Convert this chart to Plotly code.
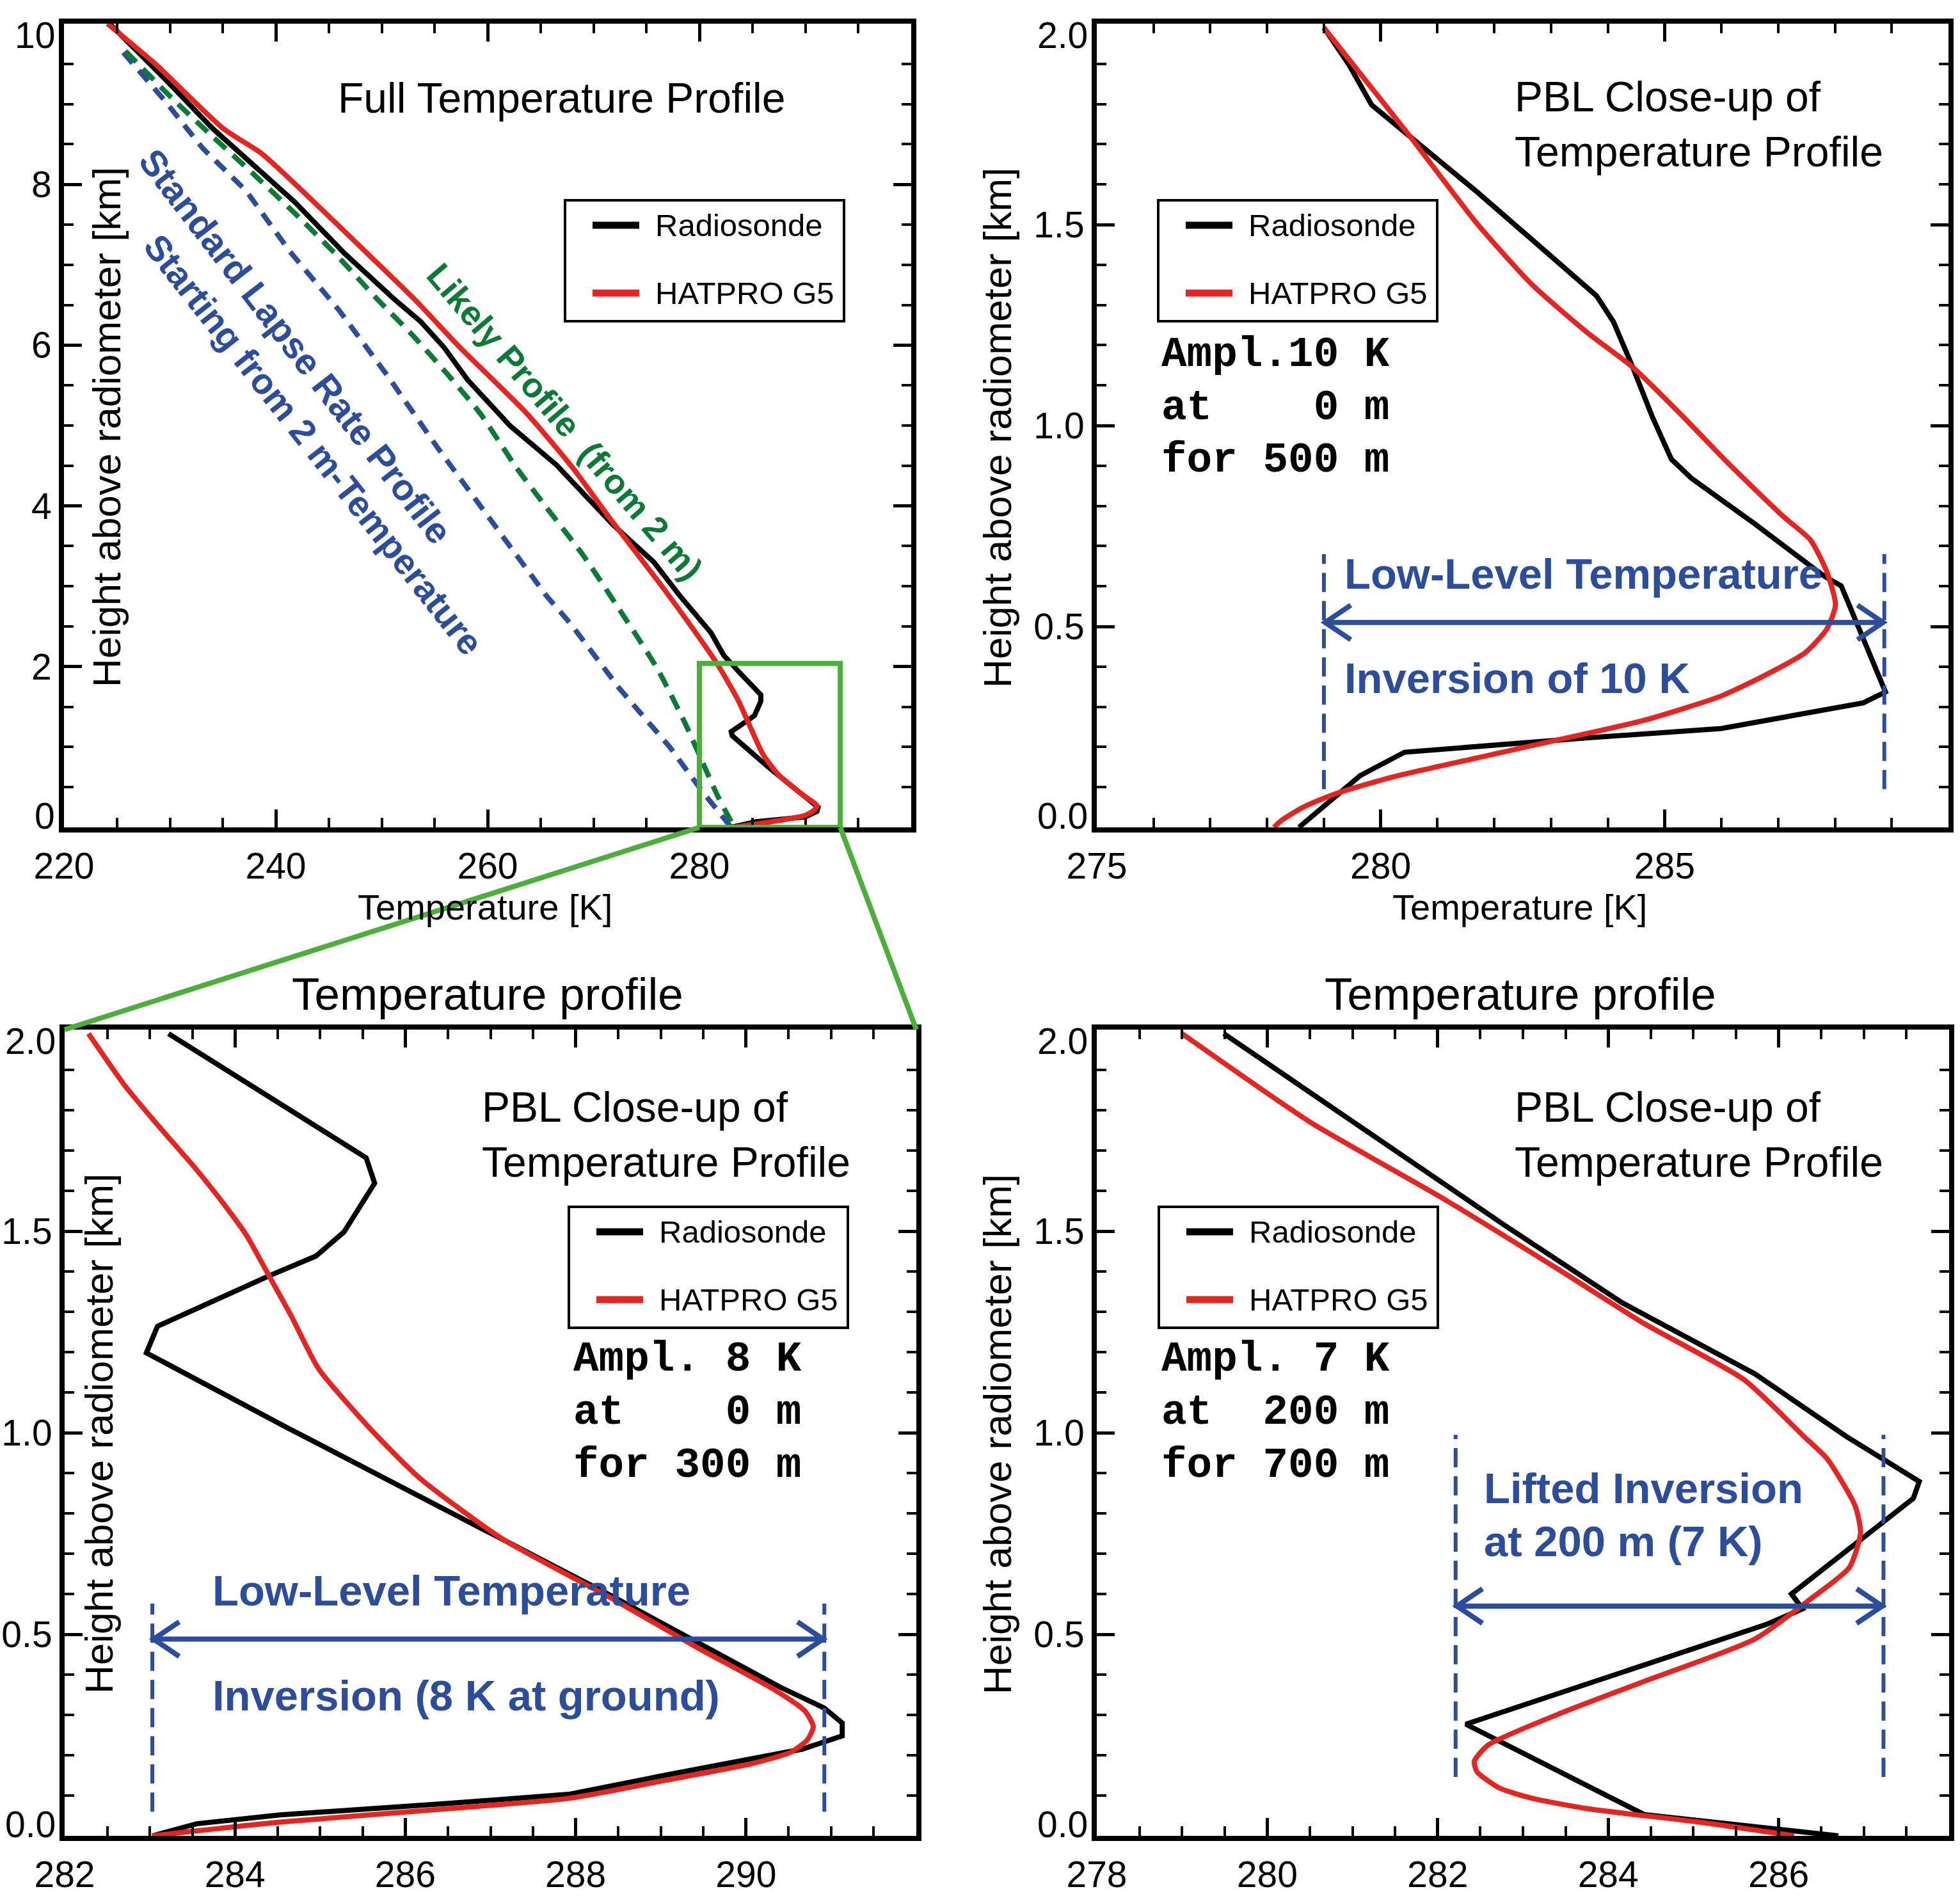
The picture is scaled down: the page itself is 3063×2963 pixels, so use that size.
import plotly.graph_objects as go

W, H = 3063, 2963

# ---------------- data (temperature in K, height in km) ----------------
# Panel A: full temperature profile
a_sonde_T = [224.3, 229.4, 234.0, 238.7, 241.8, 246.5, 251.2, 253.7, 255.9, 258.1, 262.1, 266.5,
             271.8, 275.7, 278.1, 281.1, 282.3, 283.7, 285.8, 285.8, 285.2, 283.0, 283.1, 286.5,
             291.2, 291.1, 290.0, 285.3, 283.0]
a_sonde_h = [10.0, 9.33, 8.70, 8.14, 7.78, 7.14, 6.57, 6.29, 5.97, 5.57, 5.00, 4.51,
             3.77, 3.30, 2.89, 2.42, 2.14, 1.94, 1.65, 1.57, 1.39, 1.19, 1.14, 0.75,
             0.25, 0.20, 0.13, 0.07, 0.0]
a_hat_T = [224.1, 228.7, 235.0, 238.7, 242.5, 248.1, 253.1, 257.4, 263.7, 268.0, 271.8, 276.0,
           279.5, 281.8, 283.7, 284.9, 286.0, 287.5, 289.8, 291.1, 290.8, 290.0, 287.7, 283.2]
a_hat_h = [10.0, 9.49, 8.70, 8.38, 7.92, 7.21, 6.57, 5.97, 5.15, 4.48, 3.80, 3.08,
           2.45, 2.01, 1.57, 1.22, 0.91, 0.65, 0.40, 0.27, 0.21, 0.15, 0.09, 0.0]
a_likely_T = [225.8, 230.3, 234.0, 237.8, 241.8, 245.6, 249.6, 252.8, 256.2, 259.3, 262.7, 265.5,
              269.0, 272.5, 276.0, 278.6, 280.4, 281.8, 283.3]
a_likely_h = [9.66, 9.06, 8.60, 8.14, 7.64, 7.14, 6.57, 6.14, 5.64, 5.15, 4.48, 3.99,
              3.39, 2.70, 1.98, 1.31, 0.78, 0.37, 0.0]
a_std_T = [225.6, 229.4, 233.1, 237.2, 241.3, 246.0, 250.6, 255.3, 265.5, 267.8, 272.5, 277.2, 280.2, 283.0]
a_std_h = [9.64, 9.06, 8.45, 7.92, 7.17, 6.43, 5.61, 4.72, 2.89, 2.54, 1.72, 1.00, 0.46, 0.0]
a_zoom_T = [280.0, 293.3]   # close-up box
a_zoom_h = [0.0, 2.04]

# Panel B: PBL close-up, inversion of 10 K at 0 m
b_sonde_T = [279.0, 279.44, 279.84, 280.52, 281.70, 282.67, 283.8, 284.1, 284.44, 284.78, 285.12, 285.47,
             286.59, 287.81, 288.11, 288.25, 288.89, 288.5, 286.0, 283.65, 280.42, 279.64, 278.56]
b_sonde_h = [1.99, 1.898, 1.798, 1.719, 1.581, 1.462, 1.323, 1.258, 1.145, 1.023, 0.916, 0.869,
             0.755, 0.625, 0.601, 0.554, 0.337, 0.310, 0.246, 0.223, 0.187, 0.129, 0.0]
b_hat_T = [279.0, 279.74, 280.52, 281.70, 282.67, 283.65, 284.44, 285.32, 286.1, 287.08, 287.57, 287.86,
           288.01, 287.86, 287.47, 286.79, 286.0, 284.63, 283.16, 281.70, 280.23, 279.25, 278.66, 278.27, 278.12]
b_hat_h = [1.99, 1.858, 1.719, 1.502, 1.35, 1.23, 1.145, 1.023, 0.909, 0.775, 0.715, 0.635,
           0.554, 0.494, 0.434, 0.380, 0.327, 0.266, 0.219, 0.173, 0.126, 0.086, 0.052, 0.019, 0.0]
b_inv_T = [279.0, 288.87]
b_inv_dash_h = [0.095, 0.68]
b_inv_arrow_h = 0.51

# Panel C: PBL close-up, 8 K at ground
c_sonde_T = [283.22, 285.54, 285.64, 285.28, 284.95, 284.40, 283.09, 282.96, 284.6, 287.13, 288.44, 289.42,
             290.40, 290.92, 291.13, 291.13, 290.66, 289.09, 287.92, 286.48, 284.53, 283.55, 283.03]
c_sonde_h = [1.99, 1.682, 1.619, 1.498, 1.438, 1.389, 1.264, 1.198, 1.014, 0.738, 0.593, 0.481,
             0.369, 0.317, 0.280, 0.248, 0.215, 0.152, 0.103, 0.080, 0.052, 0.030, 0.0]
c_hat_T = [282.28, 282.70, 283.09, 283.55, 283.87, 284.14, 284.40, 284.66, 284.98, 285.57, 286.16, 287.13,
           288.44, 289.42, 290.33, 290.69, 290.79, 290.72, 290.53, 290.07, 289.09, 287.92, 286.48, 284.53, 283.03]
c_hat_h = [1.99, 1.863, 1.764, 1.652, 1.567, 1.488, 1.389, 1.29, 1.159, 1.014, 0.889, 0.738,
           0.587, 0.468, 0.363, 0.310, 0.271, 0.238, 0.208, 0.179, 0.139, 0.093, 0.067, 0.034, 0.0]
c_inv_T = [283.03, 290.92]
c_inv_dash_h = [0.06, 0.576]
c_inv_arrow_h = 0.488

# Panel D: lifted inversion at 200 m (7 K)
d_sonde_T = [279.49, 281.16, 282.79, 284.16, 285.72, 286.8, 287.65, 287.58, 286.15, 286.28, 285.85,
             282.33, 284.42, 286.70]
d_sonde_h = [1.99, 1.751, 1.514, 1.323, 1.146, 0.99, 0.879, 0.837, 0.600, 0.563, 0.524,
             0.277, 0.053, 0.0]
d_hat_T = [279.0, 280.50, 282.07, 283.44, 284.42, 285.59, 286.3, 286.57, 286.90, 286.96, 286.83, 286.37,
           285.72, 284.42, 283.44, 282.59, 282.43, 282.46, 282.72, 283.11, 283.77, 285.07, 286.18]
d_hat_h = [1.99, 1.771, 1.580, 1.402, 1.271, 1.132, 0.99, 0.935, 0.817, 0.751, 0.666, 0.587,
           0.488, 0.383, 0.304, 0.225, 0.185, 0.159, 0.119, 0.093, 0.067, 0.034, 0.0]
d_inv_T = [282.21, 287.23]
d_inv_dash_h = [0.146, 0.995]
d_inv_arrow_h = 0.570

# axis tick labels
a_xticks = [220, 240, 260, 280, 300]
a_yticks = [0, 2, 4, 6, 8, 10]
b_xticks = [275, 280, 285, 290]
c_xticks = [282, 284, 286, 288, 290, 292]
d_xticks = [278, 280, 282, 284, 286, 288]
h_ticks = [0.0, 0.5, 1.0, 1.5, 2.0]

# ---------------- style ----------------
FONT = "Arial, 'Liberation Sans', sans-serif"
MONO = "'Courier New', 'Liberation Mono', monospace"
BLACK = "#000000"
RED = "#E52521"
BLUE = "#2C4C9E"
DGREEN = "#0A7A35"
LGREEN = "#4CAF3A"
TICKSIZE = 57

# plot areas in pixels (x0, x1, ytop, ybottom)
areas = {
    "A": (100, 1424, 37, 1293),
    "B": (1714, 3045, 37, 1293),
    "C": (101, 1432, 1609, 2869),
    "D": (1714, 3046, 1609, 2869),
}


def px(x):
    return x / W


def py(y):
    return 1 - y / H


fig = go.Figure()

# dashed reference profiles in panel A
fig.add_trace(go.Scatter(x=a_std_T, y=a_std_h, mode="lines", xaxis="x", yaxis="y",
                         name="Standard lapse rate", showlegend=False,
                         line=dict(color=BLUE, width=8, dash="22px,15px")))
fig.add_trace(go.Scatter(x=a_likely_T, y=a_likely_h, mode="lines", xaxis="x", yaxis="y",
                         name="Likely profile", showlegend=False,
                         line=dict(color=DGREEN, width=8, dash="24px,15px", shape="spline", smoothing=0.6)))

panels = [
    ("x", "y", a_sonde_T, a_sonde_h, a_hat_T, a_hat_h),
    ("x2", "y2", b_sonde_T, b_sonde_h, b_hat_T, b_hat_h),
    ("x3", "y3", c_sonde_T, c_sonde_h, c_hat_T, c_hat_h),
    ("x4", "y4", d_sonde_T, d_sonde_h, d_hat_T, d_hat_h),
]
for xa, ya, sT, sh, hT, hh in panels:
    fig.add_trace(go.Scatter(x=sT, y=sh, mode="lines", xaxis=xa, yaxis=ya, name="Radiosonde",
                             showlegend=False, line=dict(color=BLACK, width=8)))
    fig.add_trace(go.Scatter(x=hT, y=hh, mode="lines", xaxis=xa, yaxis=ya, name="HATPRO G5",
                             showlegend=False,
                             line=dict(color=RED, width=8, shape="spline", smoothing=0.6)))


def axis(dom, rng, tickvals, ticktext, minor_dtick, minor_tick0, standoff):
    return dict(domain=dom, range=rng, showline=True, linewidth=8, linecolor=BLACK,
                mirror="allticks", ticks="inside", ticklen=28, tickwidth=5, tickcolor=BLACK,
                tickmode="array", tickvals=tickvals, ticktext=ticktext,
                showgrid=False, zeroline=False, fixedrange=True, automargin=False,
                ticklabelstandoff=standoff,
                tickfont=dict(family=FONT, size=TICKSIZE, color=BLACK),
                minor=dict(ticks="inside", ticklen=15, tickwidth=4, tickcolor=BLACK,
                           dtick=minor_dtick, tick0=minor_tick0, showgrid=False))


def xdom(k):
    a = areas[k]
    return [px(a[0]), px(a[1])]


def ydom(k):
    a = areas[k]
    return [py(a[3]), py(a[2])]


def xlab(vals):
    t = ["{:d}".format(v) for v in vals]
    t[-1] = ""
    return t


def ylab(vals, fmt):
    # end labels are drawn separately (nudged inside like the original)
    t = [fmt.format(v) for v in vals]
    t[0] = ""
    t[-1] = ""
    return t


XS, YS = 4, 0
fig.update_layout(
    template="none",
    width=W, height=H, margin=dict(l=0, r=0, t=0, b=0, autoexpand=False),
    paper_bgcolor="white", plot_bgcolor="white", showlegend=False,
    xaxis=axis(xdom("A"), [220, 300], a_xticks, xlab(a_xticks), 5, 220, XS),
    yaxis=axis(ydom("A"), [0, 10], a_yticks, ylab(a_yticks, "{:d}"), 0.5, 0, YS),
    xaxis2=axis(xdom("B"), [275, 290], b_xticks, xlab(b_xticks), 1, 275, XS),
    yaxis2=axis(ydom("B"), [0, 2], h_ticks, ylab(h_ticks, "{:.1f}"), 0.1, 0, YS),
    xaxis3=axis(xdom("C"), [282, 292], c_xticks, xlab(c_xticks), 0.5, 282, XS),
    yaxis3=axis(ydom("C"), [0, 2], h_ticks, ylab(h_ticks, "{:.1f}"), 0.1, 0, YS),
    xaxis4=axis(xdom("D"), [278, 288], d_xticks, xlab(d_xticks), 0.5, 278, XS),
    yaxis4=axis(ydom("D"), [0, 2], h_ticks, ylab(h_ticks, "{:.1f}"), 0.1, 0, YS),
)
for i, ax in enumerate(["yaxis", "yaxis2", "yaxis3", "yaxis4"]):
    fig.layout[ax].anchor = ["x", "x2", "x3", "x4"][i]
for i, ax in enumerate(["xaxis", "xaxis2", "xaxis3", "xaxis4"]):
    fig.layout[ax].anchor = ["y", "y2", "y3", "y4"][i]

shapes = []
annots = []


def text(x, y, s, size, color=BLACK, family=FONT, bold=False, xanchor="center",
         yanchor="middle", angle=0, align="left"):
    if bold:
        s = "<b>" + s + "</b>"
    annots.append(dict(x=px(x), y=py(y), xref="paper", yref="paper", text=s, showarrow=False,
                       xanchor=xanchor, yanchor=yanchor, textangle=angle, align=align,
                       font=dict(family=family, size=size, color=color)))


# end tick labels of the height axes, nudged inward as in the original
for key, vals, fmt in [("A", a_yticks, "{:d}"), ("B", h_ticks, "{:.1f}"),
                       ("C", h_ticks, "{:.1f}"), ("D", h_ticks, "{:.1f}")]:
    x0, x1, ytop, ybot = areas[key]
    text(x0 - 12, ybot - 18, fmt.format(vals[0]), TICKSIZE, xanchor="right")
    text(x0 - 12, ytop + 18, fmt.format(vals[-1]), TICKSIZE, xanchor="right")

# green close-up box in panel A and connectors to panel C
shapes.append(dict(type="rect", xref="x", yref="y", x0=a_zoom_T[0], x1=a_zoom_T[1],
                   y0=a_zoom_h[0], y1=a_zoom_h[1], line=dict(color=LGREEN, width=8)))
ax0, ax1, atop, abot = areas["A"]


def a_px(T):
    return ax0 + (T - 220) / (300 - 220) * (ax1 - ax0)


cx0, cx1, ctop, cbot = areas["C"]
shapes.append(dict(type="line", xref="paper", yref="paper", x0=px(a_px(a_zoom_T[0])), y0=py(abot),
                   x1=px(cx0), y1=py(ctop), line=dict(color=LGREEN, width=8)))
shapes.append(dict(type="line", xref="paper", yref="paper", x0=px(a_px(a_zoom_T[1])), y0=py(abot),
                   x1=px(cx1), y1=py(ctop), line=dict(color=LGREEN, width=8)))


# inversion markers (dashed verticals + double arrow)
def inversion(xa, ya, Ts, dash_h, arrow_h):
    for T in Ts:
        shapes.append(dict(type="line", xref=xa, yref=ya, x0=T, x1=T, y0=dash_h[0], y1=dash_h[1],
                           line=dict(color=BLUE, width=6, dash="30px,14px")))
    shapes.append(dict(type="line", xref=xa, yref=ya, x0=Ts[0], x1=Ts[1], y0=arrow_h, y1=arrow_h,
                       line=dict(color=BLUE, width=8)))
    shapes.append(dict(type="path", xref=xa, yref=ya, xsizemode="pixel", ysizemode="pixel",
                       xanchor=Ts[0], yanchor=arrow_h, path="M 42,27 L 2,0 L 42,-27",
                       line=dict(color=BLUE, width=8)))
    shapes.append(dict(type="path", xref=xa, yref=ya, xsizemode="pixel", ysizemode="pixel",
                       xanchor=Ts[1], yanchor=arrow_h, path="M -42,27 L -2,0 L -42,-27",
                       line=dict(color=BLUE, width=8)))


inversion("x2", "y2", b_inv_T, b_inv_dash_h, b_inv_arrow_h)
inversion("x3", "y3", c_inv_T, c_inv_dash_h, c_inv_arrow_h)
inversion("x4", "y4", d_inv_T, d_inv_dash_h, d_inv_arrow_h)


# legends (drawn as boxes)
def legend(bx, by):
    shapes.append(dict(type="rect", xref="paper", yref="paper", x0=px(bx), x1=px(bx + 436),
                       y0=py(by), y1=py(by + 189), line=dict(color=BLACK, width=4)))
    for dy, col, name in [(39, BLACK, "Radiosonde"), (145, RED, "HATPRO G5")]:
        shapes.append(dict(type="line", xref="paper", yref="paper", x0=px(bx + 43), x1=px(bx + 116),
                           y0=py(by + dy), y1=py(by + dy), line=dict(color=col, width=11)))
        text(bx + 139, by + dy, name, 49, xanchor="left")


legend(883, 313)
legend(1810, 313)
legend(889, 1886)
legend(1811, 1886)

# titles & labels
text(877, 153, "Full Temperature Profile", 66)
text(2365, 194, "PBL Close-up of<br>Temperature Profile", 66, xanchor="left")
text(751, 1773, "PBL Close-up of<br>Temperature Profile", 66, xanchor="left")
text(2365, 1773, "PBL Close-up of<br>Temperature Profile", 66, xanchor="left")
text(762, 1553, "Temperature profile", 71)
text(2376, 1553, "Temperature profile", 71)
text(758, 1418, "Temperature [K]", 56)
text(2375, 1418, "Temperature [K]", 56)
for (x, y) in [(166, 668), (1558, 668), (154, 2241), (1558, 2241)]:
    text(x, y, "Height above radiometer [km]", 62, angle=-90)

NB = "\u00a0"
for (x, y0, lines) in [
    (1813, 554, ["Ampl.10" + NB + "K", "at" + NB * 4 + "0" + NB + "m", "for" + NB + "500" + NB + "m"]),
    (894, 2124, ["Ampl." + NB + "8" + NB + "K", "at" + NB * 4 + "0" + NB + "m", "for" + NB + "300" + NB + "m"]),
    (1813, 2124, ["Ampl." + NB + "7" + NB + "K", "at" + NB * 2 + "200" + NB + "m", "for" + NB + "700" + NB + "m"]),
]:
    for i, s in enumerate(lines):
        text(x, y0 + i * 83, s, 66, family=MONO, bold=True, xanchor="left")

text(2099, 896, "Low-Level Temperature", 67, color=BLUE, bold=True, xanchor="left")
text(2099, 1060, "Inversion of 10 K", 67, color=BLUE, bold=True, xanchor="left")
text(330, 2485, "Low-Level Temperature", 67, color=BLUE, bold=True, xanchor="left")
text(330, 2649, "Inversion (8 K at ground)", 67, color=BLUE, bold=True, xanchor="left")
text(2317, 2325, "Lifted Inversion", 67, color=BLUE, bold=True, xanchor="left")
text(2317, 2408, "at 200 m (7 K)", 67, color=BLUE, bold=True, xanchor="left")

text(883, 659, "Likely Profile" + NB + NB + "(from 2 m)", 54, color=DGREEN, bold=True, angle=49.5)
text(462, 541, "Standard Lapse Rate Profile", 57, color=BLUE, bold=True, angle=52.4)
text(490, 694, "Starting from 2 m-Temperature", 56, color=BLUE, bold=True, angle=51.8)

fig.update_layout(shapes=shapes, annotations=annots)

fig.write_html("out.html", config={"displayModeBar": False},
               post_script="document.body.style.margin='0';document.body.style.overflow='hidden';")
